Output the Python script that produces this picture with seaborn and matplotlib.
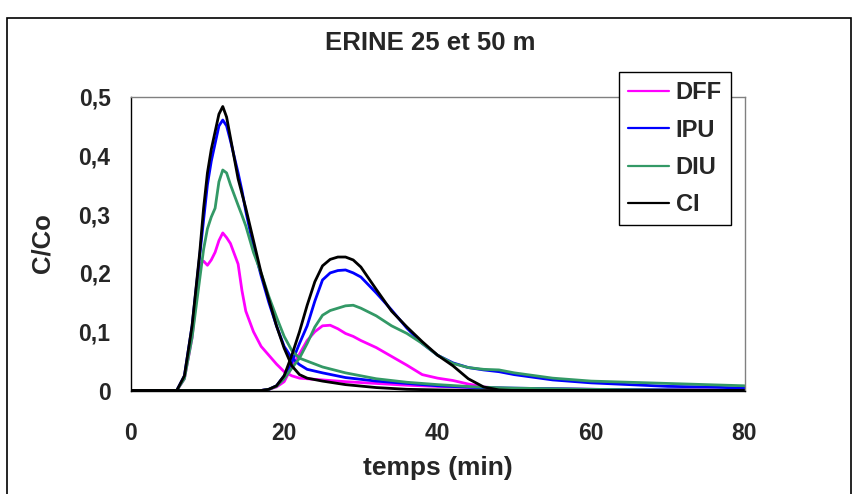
import numpy as np
import pandas as pd
import matplotlib
matplotlib.use("Agg")
import matplotlib.pyplot as plt
from matplotlib.patches import Rectangle
import seaborn as sns

# Breakthrough curves at 25 m (first arrival) and 50 m (second arrival)
t_25 = [0, 6, 7, 8, 9, 9.5, 10, 10.5, 11, 11.5, 12, 12.5, 13, 14, 14.5, 15, 16, 17,
        18, 19, 20, 21, 22, 23, 25, 28, 32, 36, 40, 45, 50, 60, 70, 80]
dff_25 = [0, 0, 0.02, 0.09, 0.215, 0.22, 0.213, 0.222, 0.235, 0.255, 0.268, 0.26, 0.25,
          0.215, 0.17, 0.135, 0.1, 0.075, 0.06, 0.045, 0.032, 0.025, 0.021, 0.02, 0.018,
          0.015, 0.012, 0.009, 0.007, 0.005, 0.003, 0.002, 0.001, 0]
ipu_25 = [0, 0, 0.025, 0.11, 0.23, 0.29, 0.35, 0.39, 0.42, 0.45, 0.46, 0.45, 0.425,
          0.37, 0.34, 0.305, 0.245, 0.195, 0.15, 0.11, 0.075, 0.055, 0.044, 0.036, 0.03,
          0.022, 0.016, 0.012, 0.008, 0.005, 0.004, 0.002, 0.001, 0]
diu_25 = [0, 0, 0.02, 0.09, 0.19, 0.24, 0.275, 0.295, 0.31, 0.355, 0.375, 0.37, 0.35,
          0.315, 0.298, 0.28, 0.235, 0.2, 0.16, 0.125, 0.092, 0.068, 0.055, 0.05, 0.04,
          0.03, 0.02, 0.014, 0.01, 0.006, 0.004, 0.002, 0.001, 0]
ci_25 = [0, 0, 0.025, 0.11, 0.235, 0.31, 0.37, 0.41, 0.44, 0.47, 0.483, 0.465, 0.43,
         0.36, 0.335, 0.31, 0.255, 0.2, 0.155, 0.11, 0.072, 0.042, 0.027, 0.021, 0.016,
         0.01, 0.005, 0.002, 0.001, 0, 0, 0, 0, 0]

t_50 = [0, 17, 18, 19, 20, 21, 22, 23, 24, 25, 26, 27, 28, 29, 30, 32, 34, 36, 38, 40,
        42, 44, 46, 48, 50, 55, 60, 65, 70, 75, 80]
dff_50 = [0, 0, 0.002, 0.006, 0.015, 0.04, 0.062, 0.085, 0.1, 0.11, 0.111, 0.105, 0.097,
          0.092, 0.085, 0.073, 0.058, 0.043, 0.027, 0.021, 0.017, 0.011, 0.006, 0.004,
          0.003, 0.002, 0.002, 0.001, 0.001, 0.001, 0]
ipu_50 = [0, 0, 0.002, 0.008, 0.025, 0.048, 0.08, 0.11, 0.152, 0.188, 0.2, 0.204, 0.205,
          0.2, 0.193, 0.166, 0.137, 0.106, 0.08, 0.06, 0.047, 0.039, 0.035, 0.032, 0.027,
          0.018, 0.013, 0.01, 0.007, 0.006, 0.004]
diu_50 = [0, 0, 0.002, 0.007, 0.02, 0.038, 0.055, 0.08, 0.108, 0.128, 0.136, 0.14, 0.144,
          0.145, 0.14, 0.127, 0.11, 0.097, 0.08, 0.06, 0.046, 0.039, 0.036, 0.035, 0.03,
          0.021, 0.016, 0.014, 0.012, 0.01, 0.008]
ci_50 = [0, 0, 0.002, 0.008, 0.025, 0.06, 0.1, 0.145, 0.185, 0.212, 0.223, 0.227, 0.227,
         0.222, 0.21, 0.172, 0.135, 0.108, 0.083, 0.06, 0.042, 0.02, 0.006, 0.001, 0,
         0, 0, 0, 0, 0, 0]

series = ["DFF", "IPU", "DIU", "CI"]
colors = ["#FF00FF", "#0000FF", "#339966", "#000000"]
x_ticks = [0, 20, 40, 60, 80]
y_ticks = [0, 0.1, 0.2, 0.3, 0.4, 0.5]
y_tick_labels = ["0", "0,1", "0,2", "0,3", "0,4", "0,5"]

frames = []
for name, v25, v50 in zip(series, [dff_25, ipu_25, diu_25, ci_25],
                          [dff_50, ipu_50, diu_50, ci_50]):
    frames.append(pd.DataFrame({"t": t_25, "C": v25, "serie": name, "site": "25 m"}))
    frames.append(pd.DataFrame({"t": t_50, "C": v50, "serie": name, "site": "50 m"}))
df = pd.concat(frames, ignore_index=True)

sns.set_style("white")
plt.rcParams["font.family"] = ["Liberation Sans", "DejaVu Sans"]
plt.rcParams["font.weight"] = "bold"

W, H = 857, 494
fig = plt.figure(figsize=(W / 100, H / 100), dpi=100)
ax = fig.add_axes([130.7 / W, 1 - 390.5 / H, (744.5 - 130.7) / W, (390.5 - 96.5) / H])

sns.lineplot(data=df, x="t", y="C", hue="serie", units="site", estimator=None,
             palette=dict(zip(series, colors)), hue_order=series, sort=False,
             linewidth=2.0, ax=ax, legend=True)

ax.set_xlim(0, 80)
ax.set_ylim(0, 0.5)
ax.set_xticks(x_ticks)
ax.set_xticklabels([str(v) for v in x_ticks])
ax.set_yticks(y_ticks)
ax.set_yticklabels(y_tick_labels)
ax.tick_params(axis="x", direction="out", length=6.5, width=1, color="black",
               pad=16, labelsize=16.5)
ax.tick_params(axis="y", direction="out", length=5.5, width=1, color="black",
               pad=9, labelsize=16.5)
for lab in ax.get_xticklabels() + ax.get_yticklabels():
    lab.set_fontweight("bold")

for side in ["left", "bottom"]:
    ax.spines[side].set_color("black")
    ax.spines[side].set_linewidth(1)
for side in ["top", "right"]:
    ax.spines[side].set_color("#808080")
    ax.spines[side].set_linewidth(1)
ax.grid(False)

ax.set_xlabel("")
ax.set_ylabel("")
fig.text(437.6 / W, 1 - 468 / H, "temps (min)", ha="center", va="center",
         fontsize=19, fontweight="bold")
fig.text(42.5 / W, 1 - 243 / H, "C/Co", ha="center", va="center", rotation=90,
         fontsize=18.5, fontweight="bold")
fig.text(430 / W, 1 - 43.5 / H, "ERINE 25 et 50 m", ha="center", va="center",
         fontsize=18.5, fontweight="bold")

handles, labels = ax.get_legend_handles_labels()
ax.legend_.remove()
leg = fig.legend(handles, labels, loc="upper left",
                 bbox_to_anchor=(619 / W, 1 - 72 / H), frameon=True, fancybox=False,
                 framealpha=1, edgecolor="black", handlelength=1.7,
                 handletextpad=0.3, labelspacing=0.6, borderpad=0.4,
                 borderaxespad=0, prop={"weight": "bold", "size": 17})
leg.get_frame().set_linewidth(1)
for line in leg.get_lines():
    line.set_linewidth(1.6)

# outer chart frame
fig.patches.append(Rectangle((7 / W, -0.05), (851 - 7) / W, 1.05 - 18 / H,
                             transform=fig.transFigure, fill=False,
                             edgecolor="black", linewidth=1.2))

fig.savefig("out.png", dpi=100)
